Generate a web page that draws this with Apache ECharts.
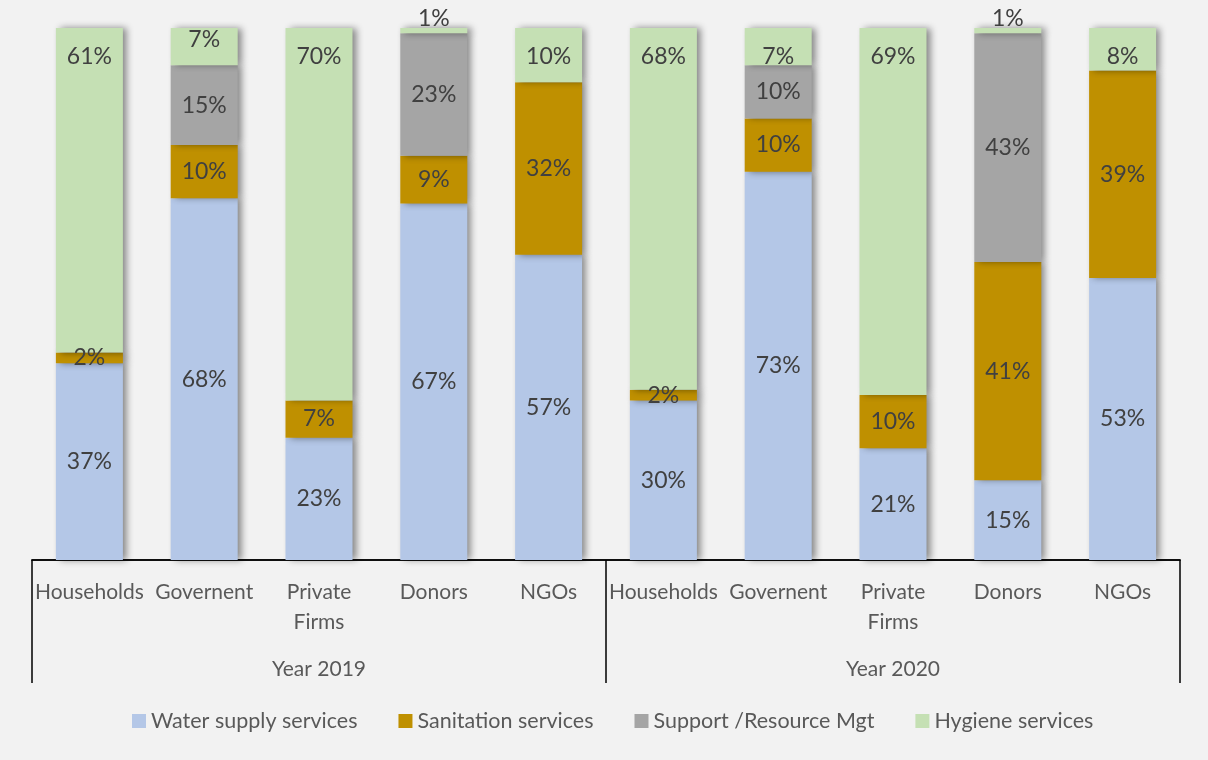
<!DOCTYPE html>
<html>
<head>
<meta charset="utf-8">
<title>Spending by source</title>
<script src="https://cdn.jsdelivr.net/npm/echarts@6/dist/echarts.min.js"></script>
<style>
  html, body { margin: 0; padding: 0; background: #f2f2f2; }
  #chart { width: 1208px; height: 760px; }
</style>
</head>
<body>
<div id="chart"></div>
<script>
// categories, two years of five sources each
const categories = ['Households', 'Governent', 'Private\nFirms', 'Donors', 'NGOs',
  'Households', 'Governent', 'Private\nFirms', 'Donors', 'NGOs']
const years = ['Year 2019', 'Year 2020']
const seriesNames = ['Water supply services', 'Sanitation services', 'Support /Resource Mgt', 'Hygiene services']
// shares in percent
const water = [37, 68, 23, 67, 57.4, 30, 73, 21, 15, 53]
const sanitation = [2, 10, 7, 9, 32.4, 2, 10, 10, 41, 39]
const support = [0, 15, 0, 23, 0, 0, 10, 0, 43, 0]
const hygiene = [61, 7, 70, 1, 10.2, 68, 7, 69, 1, 8]

const colors = ['#b4c7e7', '#bf9000', '#a5a5a5', '#c5e0b4']
const font = 'Lato, "Noto Sans", sans-serif'

const chart = echarts.init(document.getElementById('chart'))

function fmt (p) {
  return p.value ? Math.round(p.value) + '%' : ''
}

function hygieneData () {
  return hygiene.map(function (v, i) {
    if (v <= 1) return { value: v, label: { position: 'top', distance: -2 } }
    if (i === 1) return { value: v, label: { position: 'insideTop', distance: 0 } }
    return v
  })
}

function bar (name, data, color, label) {
  return {
    name: name,
    type: 'bar',
    stack: 'total',
    barWidth: 67,
    data: data,
    itemStyle: {
      color: color,
      shadowColor: 'rgba(0,0,0,0.45)',
      shadowBlur: 7,
      shadowOffsetX: 4,
      shadowOffsetY: 0
    },
    label: Object.assign({
      show: true,
      position: 'inside',
      color: '#404040',
      fontFamily: font,
      fontSize: 23,
      formatter: fmt
    }, label || {})
  }
}

chart.setOption({
  backgroundColor: '#f2f2f2',
  animation: false,
  color: colors,
  grid: { left: 32, right: 28, top: 28, bottom: 200 },
  legend: {
    bottom: 23,
    left: 127,
    itemWidth: 14,
    itemHeight: 14,
    itemGap: 41,
    icon: 'rect',
    textStyle: { color: '#595959', fontFamily: font, fontSize: 21.5 },
    data: seriesNames
  },
  xAxis: [
    {
      type: 'category',
      data: categories,
      position: 'bottom',
      axisLine: { show: true, lineStyle: { color: '#000', width: 1.5 } },
      axisTick: { show: false },
      axisLabel: {
        interval: 0,
        margin: 17,
        color: '#595959',
        fontFamily: font,
        fontSize: 21,
        lineHeight: 30
      }
    },
    {
      type: 'category',
      data: years,
      position: 'bottom',
      axisLine: { show: true, lineStyle: { color: '#000', width: 1.5 } },
      axisTick: { show: true, length: 123, lineStyle: { color: '#000', width: 1.5 } },
      axisLabel: {
        interval: 0,
        margin: 94,
        color: '#595959',
        fontFamily: font,
        fontSize: 21,
        lineHeight: 30
      }
    }
  ],
  yAxis: {
    type: 'value',
    min: 0,
    max: 100,
    show: false,
    splitLine: { show: false }
  },
  series: [
    bar(seriesNames[0], water, colors[0]),
    bar(seriesNames[1], sanitation, colors[1]),
    bar(seriesNames[2], support, colors[2]),
    bar(seriesNames[3], hygieneData(), colors[3], { position: 'insideTop', distance: 17 })
  ]
})
</script>
</body>
</html>
